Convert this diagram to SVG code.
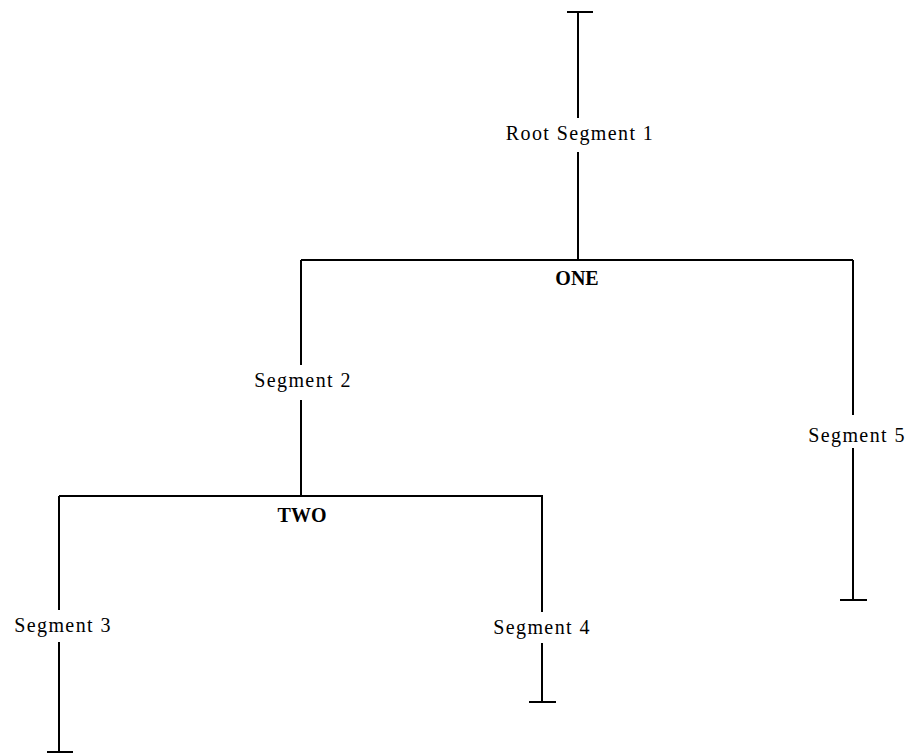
<svg xmlns="http://www.w3.org/2000/svg" width="911" height="754" viewBox="0 0 911 754">
<style>
.ln{stroke:#000;stroke-width:2;fill:none}
.lbl{font-family:"Liberation Serif","Times New Roman",serif;font-size:20px;letter-spacing:1.4px;fill:#000;text-anchor:middle}
.bold{font-family:"Liberation Serif","Times New Roman",serif;font-size:20px;font-weight:bold;fill:#000;text-anchor:middle}
</style>
<rect width="911" height="754" fill="#fff"/>
<g id="connectors">
<path class="ln" d="M567,12H593M578,12V118M578,152V260"/>
<path class="ln" d="M301,260H853"/>
<path class="ln" d="M301,260V365M301,400V496"/>
<path class="ln" d="M853,260V415M853,448V600M840,600H867"/>
<path class="ln" d="M59,496H543"/>
<path class="ln" d="M59,496V610M59,642V752M47,752H73"/>
<path class="ln" d="M542,496V612M542,643V702M529,702H556"/>
</g>
<g id="root"><text class="lbl" x="580" y="140">Root Segment 1</text></g>
<g id="one"><text class="bold" x="577" y="285">ONE</text></g>
<g id="seg2"><text class="lbl" x="303" y="387">Segment 2</text></g>
<g id="two"><text class="bold" x="302" y="522">TWO</text></g>
<g id="seg3"><text class="lbl" x="63" y="632">Segment 3</text></g>
<g id="seg4"><text class="lbl" x="542" y="634">Segment 4</text></g>
<g id="seg5"><text class="lbl" x="857" y="442">Segment 5</text></g>
</svg>
